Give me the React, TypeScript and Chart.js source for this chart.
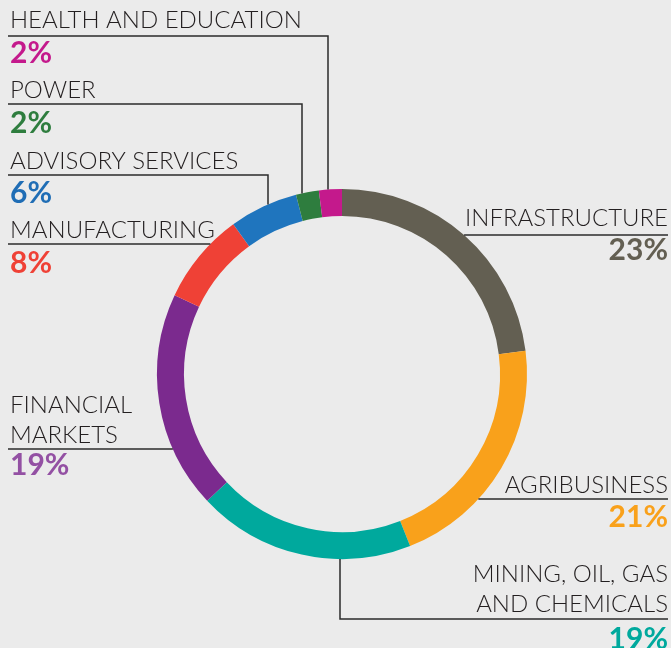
import React, { useEffect, useRef } from "react";
import { Chart, registerables } from "chart.js";

Chart.register(...registerables);

const sectors = [
  "INFRASTRUCTURE",
  "AGRIBUSINESS",
  "MINING, OIL, GAS AND CHEMICALS",
  "FINANCIAL MARKETS",
  "MANUFACTURING",
  "ADVISORY SERVICES",
  "POWER",
  "HEALTH AND EDUCATION",
];
const shares = [23, 21, 19, 19, 8, 6, 2, 2];
const ringColors = ["#635f52", "#f9a11b", "#00a99d", "#7b2a8e", "#ef4136", "#1f75be", "#2e7d3e", "#c4198c"];
const pctColors = ["#635f52", "#f9a11b", "#00a99d", "#9350a3", "#ef4136", "#1f6db5", "#2e7d3e", "#c4198c"];

type Lay = {
  lines: string[];
  align: "left" | "right";
  x: number;
  base: number[];
  pctBase: number;
  lineY: number;
  lineFromX: number;
  vertX?: number;
};
const layouts: Lay[] = [
  { lines: ["INFRASTRUCTURE"], align: "right", x: 668, base: [226], pctBase: 260, lineY: 235, lineFromX: 668 },
  { lines: ["AGRIBUSINESS"], align: "right", x: 668, base: [493], pctBase: 527, lineY: 499, lineFromX: 668 },
  { lines: ["MINING, OIL, GAS", "AND CHEMICALS"], align: "right", x: 668, base: [582, 612], pctBase: 649, lineY: 619, lineFromX: 668, vertX: 340 },
  { lines: ["FINANCIAL", "MARKETS"], align: "left", x: 10, base: [413, 443], pctBase: 475, lineY: 449, lineFromX: 8 },
  { lines: ["MANUFACTURING"], align: "left", x: 10, base: [238], pctBase: 273, lineY: 244, lineFromX: 8 },
  { lines: ["ADVISORY SERVICES"], align: "left", x: 10, base: [169], pctBase: 203, lineY: 175, lineFromX: 8, vertX: 268 },
  { lines: ["POWER"], align: "left", x: 10, base: [98], pctBase: 133, lineY: 104, lineFromX: 8, vertX: 302 },
  { lines: ["HEALTH AND EDUCATION"], align: "left", x: 10, base: [28], pctBase: 63, lineY: 36, lineFromX: 8, vertX: 328 },
];

const labelPlugin = {
  id: "sectorLabels",
  afterDraw(chart: any) {
    const ctx = chart.ctx;
    const arc = chart.getDatasetMeta(0).data[0];
    if (!arc) return;
    const cx = arc.x;
    const cy = arc.y;
    const R = arc.outerRadius;
    ctx.save();
    ctx.strokeStyle = "#2b2b2b";
    ctx.lineWidth = 1.5;
    layouts.forEach((L, i) => {
      ctx.beginPath();
      if (L.vertX !== undefined) {
        const dx = L.vertX - cx;
        const dy = Math.sqrt(Math.max(0, R * R - dx * dx));
        const ringY = L.lineY < cy ? cy - dy : cy + dy;
        ctx.moveTo(L.lineFromX, L.lineY);
        ctx.lineTo(L.vertX, L.lineY);
        ctx.lineTo(L.vertX, ringY);
      } else {
        const dy = L.lineY - cy;
        const dx = Math.sqrt(Math.max(0, R * R - dy * dy));
        const ringX = L.align === "right" ? cx + dx : cx - dx;
        ctx.moveTo(L.lineFromX, L.lineY);
        ctx.lineTo(ringX, L.lineY);
      }
      ctx.stroke();

      ctx.textAlign = L.align;
      ctx.textBaseline = "alphabetic";
      ctx.fillStyle = "#231f20";
      ctx.font = "300 24px Lato";
      L.lines.forEach((t, k) => ctx.fillText(t, L.x, L.base[k]));
      ctx.fillStyle = pctColors[i];
      ctx.font = "bold 30px Lato";
      ctx.fillText(shares[i] + "%", L.x, L.pctBase);
    });
    ctx.restore();
  },
};

export default function App() {
  const ref = useRef<HTMLCanvasElement>(null);
  useEffect(() => {
    if (!ref.current) return;
    const chart = new Chart(ref.current, {
      type: "doughnut",
      data: {
        labels: sectors,
        datasets: [
          {
            data: shares,
            backgroundColor: ringColors,
            borderWidth: 0,
          },
        ],
      },
      options: {
        animation: false,
        responsive: false,
        cutout: "85.4%",
        rotation: 0,
        layout: { padding: { left: 157, right: 144, top: 189, bottom: 89 } },
        plugins: {
          legend: { display: false },
          tooltip: { enabled: false },
        },
      },
      plugins: [labelPlugin],
    });
    return () => chart.destroy();
  }, []);
  return (
    <div style={{ position: "fixed", left: 0, top: 0, width: 671, height: 648, background: "#ebebeb" }}>
      <canvas ref={ref} width={671} height={648} style={{ display: "block" }} />
    </div>
  );
}
